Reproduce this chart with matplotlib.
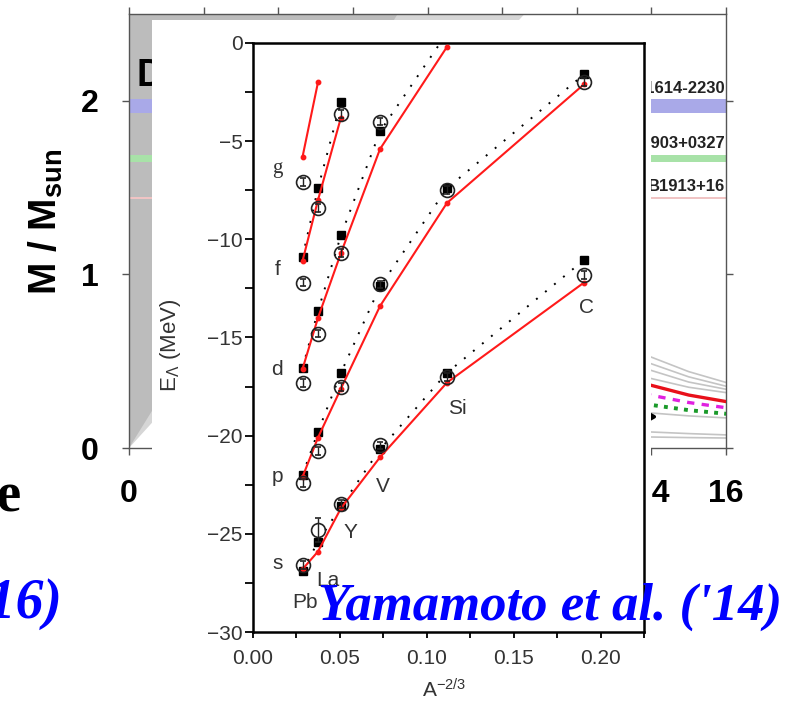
import matplotlib
matplotlib.use('Agg')
import matplotlib.pyplot as plt
from matplotlib.patches import Rectangle, Polygon

# 字体设置
plt.rcParams['font.family'] = ['Liberation Sans', 'DejaVu Sans']
plt.rcParams['mathtext.fontset'] = 'custom'
plt.rcParams['mathtext.rm'] = 'Liberation Sans'
plt.rcParams['mathtext.it'] = 'Liberation Sans:italic'
plt.rcParams['mathtext.bf'] = 'Liberation Sans:bold'

# ---------------- 背景：质量-半径图的数据 ----------------
mr_R = [13.8, 15.0, 16.2]
gray_M = [
    [0.54, 0.44, 0.365],
    [0.50, 0.41, 0.345],
    [0.46, 0.38, 0.330],
    [0.41, 0.35, 0.313],
    [0.205, 0.185, 0.171],
    [0.094, 0.083, 0.074],
    [0.064, 0.060, 0.057],
]
red_M = [0.372, 0.305, 0.260]
magenta_M = [0.312, 0.262, 0.226]
green_M = [0.254, 0.218, 0.193]
black_R = [13.5, 14.08, 13.5]
black_M = [0.25, 0.18, 0.11]

# 因果性限制区域（半径上限）
causal_R_dark = 7.2
causal_R_light = 10.6

# 脉冲星质量
pulsar_name = ['J1614-2230', 'J1903+0327', 'B1913+16']
pulsar_M = [1.97, 1.667, 1.4398]
pulsar_err = [0.04, 0.021, 0.004]
pulsar_color = ['#a9a9e8', '#a8e2a8', '#f0c4c4']

# ---------------- 小图：Λ 单粒子能级 ----------------
nuc_name = ['Pb', 'La', 'Y', 'V', 'Si', 'C']
nuc_x = [0.0285, 0.0374, 0.0506, 0.0731, 0.1116, 0.1905]

# 计算值（红线）
red_s = [-26.8, -25.9, -23.7, -21.1, -17.3, -12.2]
red_p = [-22.1, -20.1, -17.6, -13.4, -8.15, -2.1]
red_d = [-16.6, -14.0, -10.7, -5.4, -0.2]
red_f = [-11.1, -8.0, -3.8]
red_g = [-5.8, -2.0]

# 另一组计算值（黑色方块 + 点线）
sq_s = [-26.9, -25.4, -23.6, -20.7, -16.8, -11.05]
sq_p = [-22.0, -19.8, -16.8, -12.4, -7.4, -1.6]
sq_d = [-16.55, -13.65, -9.8, -4.5, 0.5]
sq_f = [-10.9, -7.4, -3.0]

# 实验值（空心圆）
exp_s = [-26.6, -24.8, -23.5, -20.5, -17.0, -11.8]
exp_s_err = [0.2, 0.6, 0.2, 0.2, 0.2, 0.2]
exp_p = [-22.4, -20.8, -17.5, -12.3, -7.5, -2.0]
exp_d = [-17.3, -14.8, -10.7, -4.0]
exp_f = [-12.2, -8.4, -3.6]
exp_g = [-7.1]

shell_label = ['g', 'f', 'd', 'p', 's']
shell_label_y = [-6.4, -11.55, -16.65, -22.1, -26.5]
nuc_label_xy = {'Pb': (0.030, -28.5), 'La': (0.0432, -27.4), 'Y': (0.0558, -24.95),
                'V': (0.0748, -22.6), 'Si': (0.1174, -18.6), 'C': (0.192, -13.45)}

fig = plt.figure(figsize=(7.98, 7.12), dpi=100)

# ---------------- 背景坐标轴 ----------------
bg = fig.add_axes([129 / 798, 1 - 448 / 712, 597 / 798, 434 / 712])
bg.set_xlim(0, 16)
bg.set_ylim(0, 2.5)
bg.add_patch(Polygon([(0, 0), (causal_R_light, 2.5), (0, 2.5)], closed=True,
                     facecolor='#d6d6d6', edgecolor='none', zorder=0))
bg.add_patch(Polygon([(0, 0), (causal_R_dark, 2.5), (0, 2.5)], closed=True,
                     facecolor='#bcbcbc', edgecolor='none', zorder=0))
for name, m, e, c in zip(pulsar_name, pulsar_M, pulsar_err, pulsar_color):
    bg.axhspan(m - e, m + e, color=c, lw=0, zorder=1)
    bg.text(15.98, m + e + 0.02, name, ha='right', va='bottom',
            fontsize=12, fontweight='bold', color='#222222')
for gm in gray_M:
    bg.plot(mr_R, gm, color='#c4c4c4', lw=1.2, zorder=2)
bg.plot(mr_R, red_M, color='#e8101a', lw=2.4, zorder=3)
bg.plot(mr_R, magenta_M, color='#e020e0', lw=2.4, ls=(0, (2.2, 2.2)), zorder=3)
bg.plot(mr_R, green_M, color='#1a9a2a', lw=2.8, ls=(0, (1, 1.6)), zorder=3)
bg.plot(black_R, black_M, color='black', lw=2.5, zorder=3)
bg.text(0.2, 2.14, 'D', fontsize=27, fontweight='bold', va='center')

bg.set_xticks(range(0, 17, 2))
bg.set_yticks([0, 1, 2])
bg.tick_params(direction='out', length=5, width=1, color='#555555',
               top=True, right=True, labelsize=23, pad=17)
for lab in bg.get_xticklabels() + bg.get_yticklabels():
    lab.set_fontweight('bold')
for sp in bg.spines.values():
    sp.set_color('#555555')
    sp.set_linewidth(1)
bg.set_ylabel(r'$\mathbf{M\ /\ M_{sun}}$', fontsize=28)
bg.yaxis.set_label_coords(-0.107, 0.52)

# 遮挡背景的白色区域
fig.add_artist(Rectangle((152 / 798, 0), (651 - 152) / 798, (712 - 20) / 712,
                         transform=fig.transFigure, facecolor='white',
                         edgecolor='none', zorder=1.5))

# ---------------- 小图坐标轴 ----------------
ax = fig.add_axes([253 / 798, 1 - 632 / 712, 391 / 798, 589 / 712])
ax.set_zorder(2)
ax.set_xlim(0, 0.225)
ax.set_ylim(-30, 0)

# 红线：计算值
for ys in [red_s, red_p, red_d, red_f, red_g]:
    ax.plot(nuc_x[:len(ys)], ys, color='#ff1a1a', lw=1.5, marker='o', ms=3.2, zorder=4)

# 点线 + 黑色方块
for ys in [sq_s, sq_p, sq_d, sq_f]:
    ax.plot(nuc_x[:len(ys)], ys, color='black', lw=1.4, ls=(0, (1, 5)), zorder=3)
    ax.plot(nuc_x[:len(ys)], ys, ls='none', marker='s', ms=5.5, color='black', zorder=3)

# 空心圆：实验值
ax.errorbar(nuc_x, exp_s, yerr=exp_s_err, fmt='o', ms=10, mfc='none', mec='#222222',
            mew=1.2, ecolor='#222222', elinewidth=1, capsize=2.5, zorder=5)
for ys in [exp_p, exp_d, exp_f, exp_g]:
    ax.errorbar(nuc_x[:len(ys)], ys, yerr=0.2, fmt='o', ms=10, mfc='none', mec='#222222',
                mew=1.2, ecolor='#222222', elinewidth=1, capsize=2.5, zorder=5)

for lab, y in zip(shell_label, shell_label_y):
    fam = ['Liberation Serif'] if lab == 'g' else ['Liberation Sans']
    ax.text(0.0140, y, lab, fontsize=15, color='#333333', ha='center', va='center', family=fam)
for name in nuc_name:
    x, y = nuc_label_xy[name]
    ax.text(x, y, name, fontsize=15, color='#333333', ha='center', va='center')

ax.set_xticks([0, 0.05, 0.10, 0.15, 0.20])
ax.set_xticks([0.025, 0.075, 0.125, 0.175, 0.225], minor=True)
ax.set_yticks([0, -5, -10, -15, -20, -25, -30])
ax.set_yticks([-2.5, -7.5, -12.5, -17.5, -22.5, -27.5], minor=True)
ax.set_xticklabels(['0.00', '0.05', '0.10', '0.15', '0.20'])
ax.set_yticklabels(['0', '\u22125', '\u221210', '\u221215', '\u221220', '\u221225', '\u221230'])
ax.tick_params(axis='y', which='both', direction='out', length=5.5, width=1.3,
               labelsize=15, labelcolor='#333333', pad=2)
ax.tick_params(axis='x', which='both', direction='out', length=4, width=1.3,
               labelsize=15, labelcolor='#333333', pad=8)
for sp in ax.spines.values():
    sp.set_linewidth(1.8)
ax.set_ylabel(r'E$_\Lambda$ (MeV)', fontsize=16, color='#333333')
ax.yaxis.set_label_coords(-0.18, 0.487)
ax.set_xlabel(r'A$^{-2/3}$', fontsize=15, color='#333333')
ax.xaxis.set_label_coords(0.49, -0.078)

# 文献标注
fig.text(318 / 798, 1 - 620 / 712, "Yamamoto et al. ('14)", color='#0000ff',
         fontsize=38, fontweight='bold', style='italic', family='Liberation Serif',
         ha='left', va='baseline', zorder=5)
fig.text(62 / 798, 1 - 618 / 712, "('16)", color='#0000ff',
         fontsize=40, fontweight='bold', style='italic', family='Liberation Serif',
         ha='right', va='baseline', zorder=5)
fig.text(21 / 798, 1 - 512 / 712, "ce", color='black',
         fontsize=40, fontweight='bold', family='Liberation Serif',
         ha='right', va='baseline', zorder=5)

fig.savefig('out.png', dpi=100)
